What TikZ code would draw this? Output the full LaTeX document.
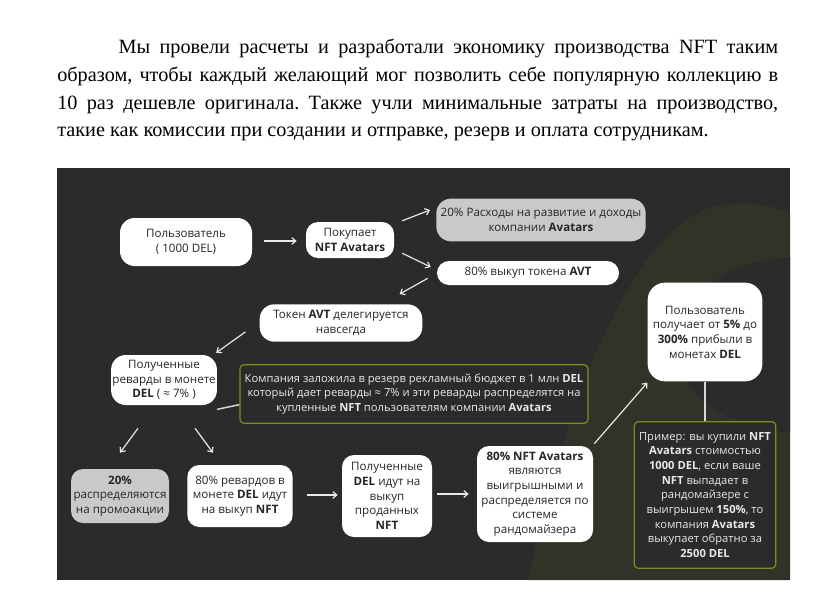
\documentclass[tikz,border=0pt]{standalone}
\usepackage{fontspec}
\setmainfont{Liberation Serif}
\newfontfamily\diagfont{Open Sans}
\usetikzlibrary{arrows.meta, positioning}
\definecolor{panelBg}{HTML}{2B2B2B}
\definecolor{panelArc}{HTML}{323228}
\definecolor{oliveLine}{HTML}{7F8C1E}
\definecolor{boxGray}{HTML}{C9C9C9}
\definecolor{inkDark}{HTML}{262626}
\definecolor{inkLight}{HTML}{E8E8E8}

\tikzset{
  wbox/.style={fill=white, text=inkDark, rounded corners=9pt, align=center, inner sep=1pt,
    font=\diagfont\fontsize{8.7}{11}\selectfont},
  gbox/.style={wbox, fill=boxGray},
  obox/.style={draw=oliveLine, line width=0.9pt, fill=panelBg, text=inkLight, rounded corners=3pt,
    align=center, inner sep=1pt, font=\diagfont\fontsize{8.4}{11}\selectfont},
  arr/.style={draw=inkLight, line width=0.9pt, -{Straight Barb[length=3pt,width=5pt]}},
  link/.style={draw=inkLight!85!gray, line width=1.1pt},
}

\begin{document}
\begin{tikzpicture}[x=0.75pt, y=-0.75pt]
  \useasboundingbox[fill=white] (0,0) rectangle (821,603);

  % intro text
  \node[anchor=north west, inner sep=0pt, text width=540.75pt, align=justify,
        font=\fontsize{15.2}{20.8}\selectfont\frenchspacing] (intro) at (57,39)
    {\hspace*{46pt}Мы провели расчеты и разработали экономику производства NFT таким\linebreak
     образом, чтобы каждый желающий мог позволить себе популярную коллекцию в\linebreak
     10 раз дешевле оригинала. Также учли минимальные затраты на производство,\linebreak
     такие как комиссии при создании и отправке, резерв и оплата сотрудникам.};

  % panel with faint logo
  \fill[panelBg] (57,168) rectangle (790,580);
  \begin{scope}
    \clip (57,168) rectangle (790,580);
    \fill[panelArc] (528,580) .. controls (570,380) and (640,220) .. (720,205)
      .. controls (755,200) and (780,208) .. (790,214) -- (790,580) -- cycle;
    \fill[panelBg] (800,345) ellipse [x radius=125, y radius=88];
  \end{scope}

  % boxes
  \node[wbox, minimum width=99pt, minimum height=36pt, rounded corners=11pt] (user) at (186,242)
    {Пользователь\\( 1000 DEL)};
  \node[wbox, minimum width=66pt, minimum height=27pt] (buy) at (350,240)
    {Покупает\\\textbf{NFT Avatars}};
  \node[gbox, minimum width=157pt, minimum height=32pt, rounded corners=11pt] (costs) at (541,220)
    {20\% Расходы на развитие и доходы\\компании \textbf{Avatars}};
  \node[wbox, minimum width=136.5pt, minimum height=18pt] (avt) at (528,273)
    {80\% выкуп токена \textbf{AVT}};
  \node[wbox, minimum width=122pt, minimum height=28pt, rounded corners=11pt] (token) at (341,323)
    {Токен \textbf{AVT} делегируется\\навсегда};
  \node[wbox, minimum width=78pt, minimum height=37.5pt, rounded corners=11pt] (reward) at (164,380)
    {Полученные\\реварды в монете\\\textbf{DEL} ( ≈ 7\% )};
  \node[obox, minimum width=261pt, minimum height=44pt] (reserve) at (414,394)
    {Компания заложила в резерв рекламный бюджет в 1 млн \textbf{DEL}\\
     который дает реварды ≈ 7\% и эти реварды распределятся на\\
     купленные \textbf{NFT} пользователям компании \textbf{Avatars}};
  \node[wbox, minimum width=86pt, minimum height=74pt, rounded corners=13pt] (profit) at (705,332)
    {Пользователь\\получает от \textbf{5\%} до\\\textbf{300\%} прибыли в\\монетах \textbf{DEL}};
  \node[obox, minimum width=106pt, minimum height=110pt] (example) at (705,495)
    {Пример: вы купили \textbf{NFT}\\\textbf{Avatars} стоимостью\\\textbf{1000 DEL}, если ваше\\
     \textbf{NFT} выпадает в\\рандомайзере с\\выигрышем \textbf{150\%}, то\\компания \textbf{Avatars}\\
     выкупает обратно за\\\textbf{2500 DEL}};
  \node[gbox, minimum width=73.5pt, minimum height=40.5pt] (promo) at (120,496)
    {\textbf{20\%}\\распределяются\\на промоакции};
  \node[wbox, minimum width=79pt, minimum height=46.5pt] (buyback) at (240,496)
    {80\% ревардов в\\монете \textbf{DEL} идут\\на выкуп \textbf{NFT}};
  \node[wbox, minimum width=67.5pt, minimum height=61.5pt] (sold) at (387,496)
    {Полученные\\\textbf{DEL} идут на\\выкуп\\проданных\\\textbf{NFT}};
  \node[wbox, minimum width=87pt, minimum height=72pt] (win) at (535,494)
    {\textbf{80\% NFT Avatars}\\являются\\выигрышными и\\распределяется по\\системе\\рандомайзера};

  % arrows
  \draw[arr] ([shift={(12,-1)}]user.east) -- ([shift={(-9,1)}]buy.west);
  \draw[arr] ([shift={(8,-1)}]buy.north east) -- ([shift={(-6,-10)}]costs.west);
  \draw[arr] ([shift={(8,-5)}]buy.south east) -- ([shift={(-6,-6)}]avt.west);
  \draw[arr] ([shift={(-9,-7)}]avt.south west) -- ([shift={(-23,-10)}]token.north east);
  \draw[arr] ([shift={(-14,-10)}]token.south west) -- ([shift={(-1,-2)}]reward.north east);
  \draw[arr] ([shift={(-26,23)}]reward.south) -- ([shift={(0,-16)}]promo.north);
  \draw[arr] ([shift={(31,23)}]reward.south) -- ([shift={(-27,-12)}]buyback.north);
  \draw[arr] ([shift={(14,-1)}]buyback.east) -- ([shift={(-4,-1)}]sold.west);
  \draw[arr] ([shift={(5,-2)}]sold.east) -- ([shift={(-8,0)}]win.west);
  \draw[arr] ([shift={(1,-2)}]win.north east) -- ([shift={(0,1)}]profit.south west);

  % plain links
  \draw[link] ([yshift=-22]reward.east) -- ([yshift=-8]reserve.west);
  \draw[link] (profit.south) -- (example.north);
\end{tikzpicture}
\end{document}
